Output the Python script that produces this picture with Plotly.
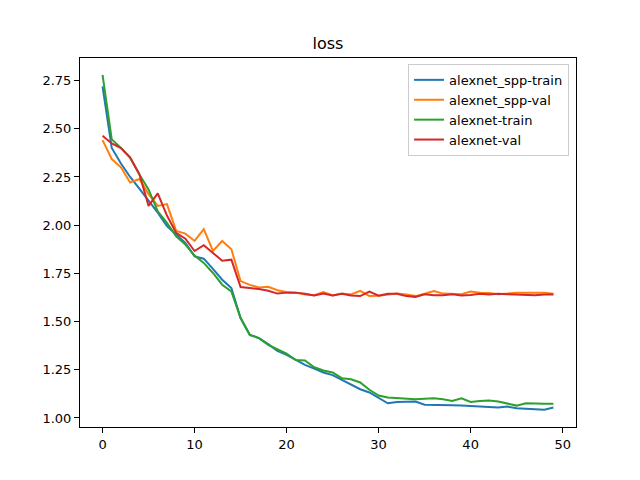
import plotly.graph_objects as go

epochs = list(range(50))

spp_train = [2.72, 2.40, 2.32, 2.25, 2.19, 2.13, 2.065, 1.995, 1.951, 1.908,
             1.838, 1.826, 1.773, 1.717, 1.674, 1.518, 1.431, 1.414, 1.383, 1.348,
             1.327, 1.300, 1.275, 1.256, 1.236, 1.222, 1.198, 1.175, 1.149, 1.132,
             1.102, 1.076, 1.083, 1.083, 1.085, 1.069, 1.069, 1.067, 1.066, 1.064,
             1.062, 1.062, 1.057, 1.054, 1.059, 1.050, 1.047, 1.047, 1.042, 1.054]

spp_val = [2.441, 2.343, 2.300, 2.221, 2.239, 2.161, 2.100, 2.109, 1.970, 1.956,
           1.918, 1.979, 1.866, 1.918, 1.875, 1.710, 1.690, 1.677, 1.680, 1.662,
           1.653, 1.650, 1.640, 1.637, 1.653, 1.635, 1.645, 1.640, 1.659, 1.632,
           1.634, 1.640, 1.645, 1.640, 1.632, 1.644, 1.658, 1.645, 1.644, 1.642,
           1.656, 1.650, 1.648, 1.642, 1.645, 1.650, 1.650, 1.650, 1.650, 1.644]

alex_train = [2.78, 2.445, 2.40, 2.35, 2.263, 2.185, 2.072, 2.012, 1.942, 1.899,
              1.842, 1.804, 1.752, 1.691, 1.656, 1.518, 1.431, 1.414, 1.379, 1.357,
              1.333, 1.300, 1.298, 1.263, 1.246, 1.236, 1.206, 1.201, 1.184, 1.146,
              1.116, 1.106, 1.104, 1.102, 1.097, 1.100, 1.102, 1.097, 1.088, 1.102,
              1.083, 1.088, 1.090, 1.085, 1.076, 1.064, 1.076, 1.073, 1.073, 1.074]

alex_val = [2.464, 2.424, 2.400, 2.351, 2.265, 2.100, 2.165, 2.050, 1.960, 1.930,
            1.866, 1.896, 1.856, 1.815, 1.821, 1.679, 1.674, 1.669, 1.660, 1.645,
            1.650, 1.650, 1.644, 1.635, 1.645, 1.635, 1.644, 1.635, 1.632, 1.655,
            1.634, 1.644, 1.644, 1.632, 1.628, 1.642, 1.637, 1.637, 1.642, 1.635,
            1.638, 1.644, 1.640, 1.644, 1.642, 1.640, 1.638, 1.637, 1.640, 1.640]

series_names = ["alexnet_spp-train", "alexnet_spp-val", "alexnet-train", "alexnet-val"]
series_values = [spp_train, spp_val, alex_train, alex_val]
colors = ["#1f77b4", "#ff7f0e", "#2ca02c", "#d62728"]

x_ticks = [0, 10, 20, 30, 40, 50]
y_ticks = [1.00, 1.25, 1.50, 1.75, 2.00, 2.25, 2.50, 2.75]

fig = go.Figure()
for name, vals, c in zip(series_names, series_values, colors):
    fig.add_trace(go.Scatter(x=epochs, y=vals, mode="lines", name=name,
                             line=dict(color=c, width=2)))

axis_common = dict(showline=True, linecolor="black", linewidth=1, mirror=True,
                   ticks="outside", ticklen=5, tickwidth=1, tickcolor="black",
                   showgrid=False, zeroline=False,
                   tickfont=dict(family="DejaVu Sans", size=13, color="black"))

# the page body adds an 8px offset; margins compensate so the plot area lands
# where the reference has it
fig.update_layout(
    width=640, height=480,
    margin=dict(l=72, r=72, t=50, b=61),
    paper_bgcolor="white", plot_bgcolor="white",
    font=dict(family="DejaVu Sans", size=13, color="black"),
    title=dict(text="loss", x=0.5, xref="paper", y=1 - 35 / 480, yref="container",
               xanchor="center", yanchor="middle",
               font=dict(family="DejaVu Sans", size=16, color="black")),
    xaxis=dict(range=[-2.45, 51.45], tickvals=x_ticks, **axis_common),
    yaxis=dict(range=[0.953, 2.867], tickvals=y_ticks, tickformat=".2f", **axis_common),
    legend=dict(x=0.986, y=0.984, xanchor="right", yanchor="top",
                bordercolor="#cccccc", borderwidth=1, bgcolor="rgba(255,255,255,0.8)",
                font=dict(family="DejaVu Sans", size=13, color="black"),
                tracegroupgap=0),
    showlegend=True,
)

fig.write_html("out.html")
